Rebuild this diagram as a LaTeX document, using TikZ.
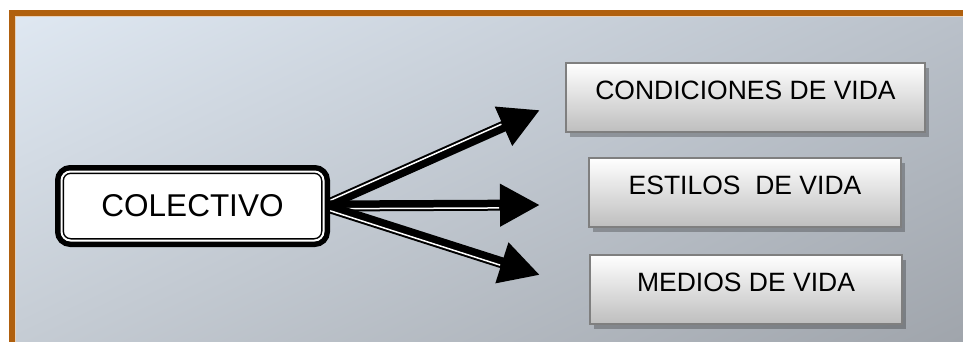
\documentclass[tikz,border=0pt]{standalone}
\usepackage{fontspec}
\setmainfont{Liberation Sans}
\usetikzlibrary{arrows.meta,calc,shadows}
\definecolor{framecol}{HTML}{B0600E}
\definecolor{boxline}{HTML}{7F7F7F}
\definecolor{boxbot}{HTML}{BEBEBE}
\pgfdeclarelayer{bg}
\pgfdeclarelayer{mid}
\pgfsetlayers{bg,mid,main}
% backdrop: light blue-grey top left, darker grey bottom right
\pgfdeclarefunctionalshading{backdrop}{\pgfpoint{0bp}{0bp}}{\pgfpoint{100bp}{100bp}}{}{
  0.02 mul 0.5 sub exch 0.02 mul 0.5 sub exch
  2 copy 0.102 mul exch -0.146 mul add 0.773 add
  3 1 roll
  2 copy 0.110 mul exch -0.153 mul add 0.800 add
  3 1 roll
  0.118 mul exch -0.157 mul add 0.831 add
}

\begin{document}
\begin{tikzpicture}[
  x=1pt, y=-1pt,
  mainbox/.style={draw=black, line width=1.5pt, double=white, double distance=2pt,
              fill=white, rounded corners=9pt,
              preaction={draw=black, line width=13pt},
              minimum width=262pt, minimum height=69pt, inner sep=0pt,
              font=\fontsize{31.5}{37}\selectfont},
  itembox/.style={draw=boxline, line width=2pt, top color=white, bottom color=boxbot,
              minimum height=69pt, inner sep=0pt, text depth=15pt,
              drop shadow={shadow xshift=4pt, shadow yshift=-5pt, fill=black, opacity=0.25},
              font=\fontsize{26.5}{32}\selectfont},
  arr/.style={-{Triangle[length=40pt, width=40pt]}, line width=11pt, black},
  gap/.style={white, line width=1.5pt},
]
\useasboundingbox (0,0) rectangle (963,341);

% ------------------------------------------------------------- backdrop
\begin{pgfonlayer}{bg}
  \shade[shading=backdrop] (12,13) rectangle (963,341);
  \draw[framecol, line width=6pt] (12,365) -- (12,13) -- (985,13);
  \draw[white!70!framecol, line width=0.8pt] (15.4,365) -- (15.4,16.4) -- (985,16.4);
\end{pgfonlayer}

% ------------------------------------------------------------- nodes
\node[mainbox] (col) at (192.5,206) {COLECTIVO};

\node[itembox, minimum width=359pt] (cond) at (745.5,97.5) {CONDICIONES DE VIDA};
\node[itembox, minimum width=312pt] (est)  at (745,192.5)  {ESTILOS\ \ DE VIDA};
\node[itembox, minimum width=312pt] (med)  at (746,289.5)  {MEDIOS DE VIDA};

\coordinate (tipcond) at (540,110);
\coordinate (tipest)  at (540,205);
\coordinate (tipmed)  at (540,275);

% ------------------------------------------------------------- arrows
\begin{pgfonlayer}{mid}
  \draw[arr] (col.east) -- (tipcond);
  \draw[gap] ($(col.east)!2.75pt!90:(tipcond)$)
          -- ($(tipcond)!41pt!(col.east)!2.75pt!-90:(col.east)$);

  \draw[arr] (col.east) -- (tipest);
  \draw[gap] ($(col.east)!2.75pt!-90:(tipest)$)
          -- ($(tipest)!41pt!(col.east)!2.75pt!90:(col.east)$);

  \draw[arr] (col.east) -- (tipmed);
  \draw[gap] ($(col.east)!2.75pt!-90:(tipmed)$)
          -- ($(tipmed)!41pt!(col.east)!2.75pt!90:(col.east)$);
\end{pgfonlayer}

\end{tikzpicture}
\end{document}
